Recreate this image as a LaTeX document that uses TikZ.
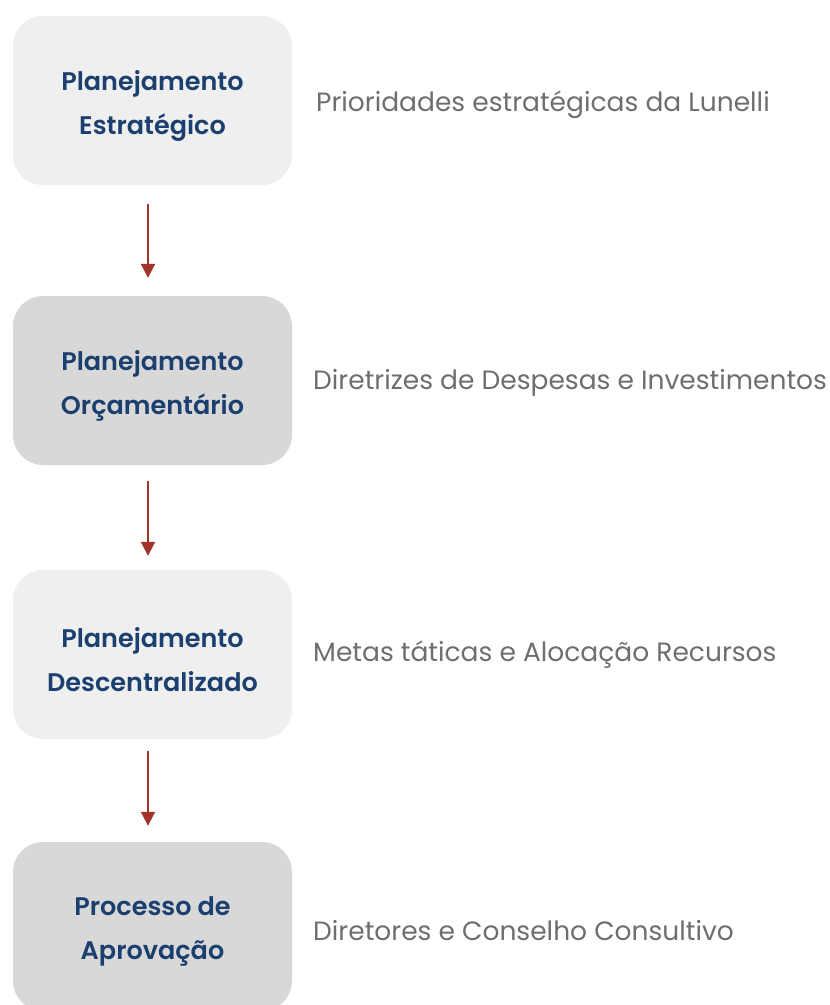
\documentclass[tikz,border=0pt]{standalone}
\usepackage{fontspec}
\setmainfont{Poppins}
\newfontfamily\medfont{Poppins SemiBold}
\definecolor{boxlight}{HTML}{EFEFEF}
\definecolor{boxdark}{HTML}{D8D8D8}
\definecolor{titleblue}{HTML}{1B3F6E}
\definecolor{arrowred}{HTML}{A0332A}
\definecolor{sidegray}{HTML}{6E6E6E}
\usetikzlibrary{arrows.meta}
\begin{document}
\begin{tikzpicture}[x=1pt,y=-1pt,
  stagebox/.style={rounded corners=30pt, minimum width=279pt, minimum height=169pt,
    inner sep=0pt, align=center, text=titleblue, font=\fontsize{25.5}{44}\selectfont\medfont},
  stagelabel/.style={inner sep=0pt, align=center, text=titleblue, font=\fontsize{25.5}{44}\selectfont\medfont},
  sidetext/.style={anchor=west, inner sep=0pt, text=sidegray, font=\fontsize{26.5}{30}\selectfont},
  flow/.style={draw=arrowred, line width=2pt, -{Triangle[length=14pt,width=14pt]}}]
\useasboundingbox (0,0) rectangle (830,1005);
\begin{scope}
\clip (0,0) rectangle (830,1005);
\node[stagebox, fill=boxlight] (b1) at (152.5,100.5) {};
\node[stagebox, fill=boxdark] (b2) at (152.5,380.5) {};
\node[stagebox, fill=boxlight] (b3) at (152.5,654.5) {};
\node[stagebox, fill=boxdark] (b4) at (152.5,926.5) {};
\end{scope}
\node[stagelabel] (t1) at ([yshift=-5pt]b1.center) {Planejamento\\Estratégico};
\node[stagelabel] (t2) at ([yshift=-5pt]b2.center) {Planejamento\\Orçamentário};
\node[stagelabel] (t3) at ([yshift=-5pt]b3.center) {Planejamento\\Descentralizado};
\node[stagelabel] (t4) at ([yshift=-5pt]b4.center) {Processo de\\Aprovação};
\node[sidetext] (s1) at (316,105) {Prioridades estratégicas da Lunelli};
\node[sidetext] (s2) at (313,383) {Diretrizes de Despesas e Investimentos};
\node[sidetext] (s3) at (313,655) {Metas táticas e Alocação Recursos};
\node[sidetext] (s4) at (313,931) {Diretores e Conselho Consultivo};
\draw[flow] ([yshift=-19pt]b1.south -| 148,0) -- ([yshift=18pt]b2.north -| 148,0);
\draw[flow] ([yshift=-16pt]b2.south -| 148,0) -- ([yshift=14pt]b3.north -| 148,0);
\draw[flow] ([yshift=-12pt]b3.south -| 148,0) -- ([yshift=16pt]b4.north -| 148,0);
\end{tikzpicture}
\end{document}
